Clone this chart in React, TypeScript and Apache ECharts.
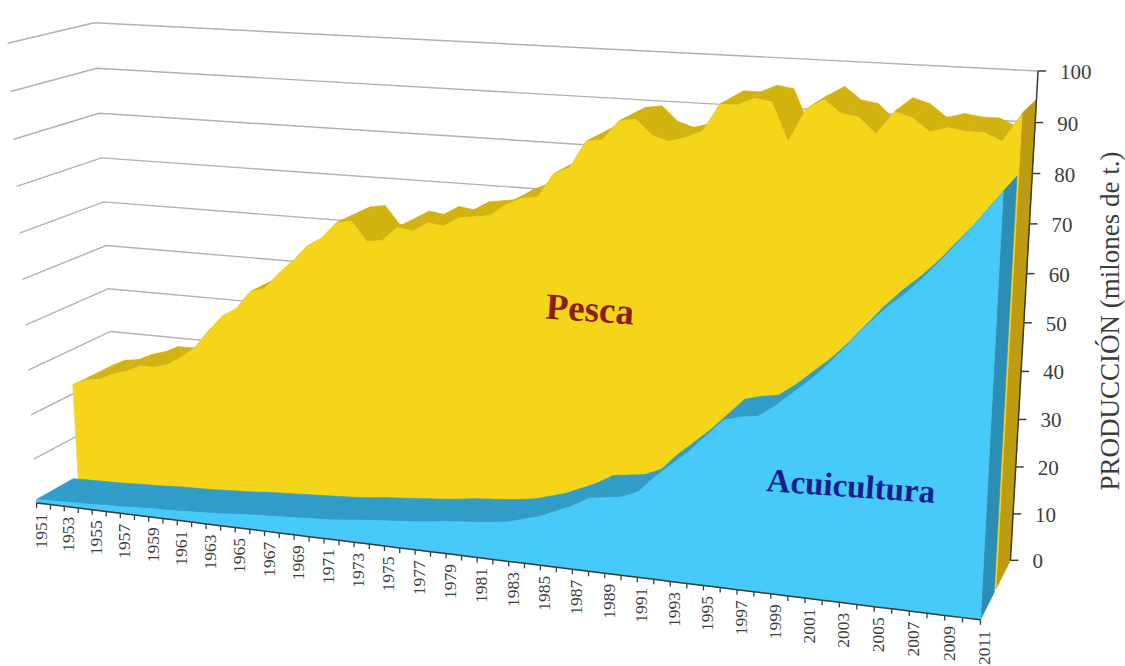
import React, { useEffect, useRef } from "react";
import * as echarts from "echarts";

const years: number[] = [];
for (let y = 1951; y <= 2011; y++) years.push(y);
const pesca = [22,23.5,24,25.5,26.5,28,28,29,31,33.5,37.5,41,43,47,48,51.5,54.5,58,60,63.5,64,60,60.5,63.5,63,65,64.5,66.5,67,67.5,70,71.5,72,77,78.5,84,84.5,88.5,89,86,85,86,87.5,93,93,94.5,94,86.5,93,95,92.5,92,89,93.5,92.5,90,91,90.5,90.5,89,94.5];
const acuicultura = [0.8,0.9,1,1.1,1.2,1.4,1.5,1.7,1.9,2,2.1,2.3,2.5,2.7,3,3.2,3.4,3.6,3.8,4,4.2,4.5,4.9,5.2,5.5,5.8,6.1,6.5,7,7.3,7.6,8,8.5,9.5,10.5,12,13.5,15.5,16,16.5,18,21.5,24.5,27.5,31,34.5,35.5,36,38.5,41.5,44.5,48,52,56,59.5,62.5,66,70,74,78.5,83];
const valueTicks = [0,10,20,30,40,50,60,70,80,90,100];
const yearLabels = years.filter((y) => (y - 1951) % 2 === 0);

// Perspective calibration: (u, v, w) of the chart box -> page pixel
const calib: number[][] = [
  [0,0,0,36,502],[1,0,0,981,620],[0,1,0,8,44],[0,0,1,118,458],
  [1,0,1,1010,560],[0,1,1,94,22],[1,1,1,1038,71],[0.5,0,0,477,557.5],[1,0.5,1,1024,323],
];
function solveCamera(): number[] {
  const A: number[][] = [];
  const b: number[] = [];
  for (const [u,v,w,x,y] of calib) {
    A.push([u,v,w,1,0,0,0,0,-x*u,-x*v,-x*w]); b.push(x);
    A.push([0,0,0,0,u,v,w,1,-y*u,-y*v,-y*w]); b.push(y);
  }
  const n = 11;
  const M: number[][] = [];
  for (let i = 0; i < n; i++) {
    const r: number[] = [];
    for (let j = 0; j < n; j++) { let s = 0; for (let k = 0; k < A.length; k++) s += A[k][i]*A[k][j]; r.push(s); }
    let s = 0; for (let k = 0; k < A.length; k++) s += A[k][i]*b[k]; r.push(s);
    M.push(r);
  }
  for (let i = 0; i < n; i++) {
    let p = i; for (let r = i+1; r < n; r++) if (Math.abs(M[r][i]) > Math.abs(M[p][i])) p = r;
    [M[i], M[p]] = [M[p], M[i]];
    for (let r = 0; r < n; r++) if (r !== i) { const f = M[r][i]/M[i][i]; for (let c = i; c <= n; c++) M[r][c] -= f*M[i][c]; }
  }
  return M.map((r, i) => r[n]/r[i]);
}
const P = solveCamera();
const project = (u: number, v: number, w: number): number[] => {
  const d = P[8]*u + P[9]*v + P[10]*w + 1;
  return [(P[0]*u+P[1]*v+P[2]*w+P[3])/d, (P[4]*u+P[5]*v+P[6]*w+P[7])/d];
};

const G = { left: 100, top: 100, width: 800, height: 400 };
const pt = (api: any, year: number, val: number, w: number) => {
  const c = api.coord([year, val]);
  return project((c[0]-G.left)/G.width, 1-(c[1]-G.top)/G.height, w);
};

const AQ_F = 0, AQ_B = 0.44, PE_F = 0.5, PE_B = 1;
const C = { aqFront: "#47c9f9", aqTop: "#2f9dc8", aqSide: "#2e8db5", peFront: "#f5d519", peTop: "#d2b20f", peSide: "#bd9c12", grid: "#b0b0b8", axis: "#3a3a3a", text: "#3c3c3c" };
const serif = "'Liberation Serif', serif";
const poly = (points: number[][], fill: string) => ({ type: "polygon", shape: { points }, style: { fill, stroke: fill, lineWidth: 0.6 } });

const solid = (name: string, vals: number[], wF: number, wB: number, front: string, top: string, side: string, z: number) => [
  { // top surface, one quad per year step
    type: "custom", name: name + " sup", coordinateSystem: "cartesian2d", z, animation: false, silent: true,
    data: years.slice(0, -1).map((y, i) => [y, vals[i], y + 1, vals[i + 1]]),
    encode: { x: 0, y: 1 },
    renderItem: (_: any, api: any) => {
      const y0 = api.value(0), v0 = api.value(1), y1 = api.value(2), v1 = api.value(3);
      return poly([pt(api,y0,v0,wF), pt(api,y1,v1,wF), pt(api,y1,v1,wB), pt(api,y0,v0,wB)], top);
    },
  },
  { // right side and front face
    type: "custom", name, coordinateSystem: "cartesian2d", z: z + 1, animation: false, silent: true,
    data: [[years[years.length - 1], vals[vals.length - 1]]],
    encode: { x: 0, y: 1 },
    renderItem: (_: any, api: any) => {
      const yl = years[years.length - 1], vl = vals[vals.length - 1];
      const sidePts = [pt(api,yl,0,wF), pt(api,yl,0,wB), pt(api,yl,vl,wB), pt(api,yl,vl,wF)];
      const frontPts = [pt(api,years[0],0,wF), ...years.map((y,i) => pt(api,y,vals[i],wF)), pt(api,yl,0,wF)];
      return { type: "group", children: [poly(sidePts, side), poly(frontPts, front)] };
    },
  },
];

export default function App() {
  const ref = useRef<HTMLDivElement>(null);
  useEffect(() => {
    const chart = echarts.init(ref.current!, undefined, { renderer: "svg" });
    const yl = years[years.length - 1], y0 = years[0];
    chart.setOption({
      animation: false,
      backgroundColor: "#ffffff",
      grid: { ...G, containLabel: false },
      xAxis: { type: "value", min: y0, max: yl, show: false },
      yAxis: { type: "value", min: 0, max: 100, show: false },
      series: [
        { type: "custom", name: "rejilla", coordinateSystem: "cartesian2d", z: 1, silent: true,
          data: valueTicks.slice(1).map((v) => [y0, v]), encode: { x: 0, y: 1 },
          renderItem: (_: any, api: any) => {
            const v = api.value(1);
            return { type: "polyline", shape: { points: [pt(api,yl,v,1), pt(api,y0,v,1), pt(api,y0,v,0)] }, style: { stroke: C.grid, lineWidth: 1.4, fill: "none" } };
          } },
        ...solid("Pesca", pesca, PE_F, PE_B, C.peFront, C.peTop, C.peSide, 2),
        ...solid("Acuicultura", acuicultura, AQ_F, AQ_B, C.aqFront, C.aqTop, C.aqSide, 5),
        { type: "custom", name: "eje valores", coordinateSystem: "cartesian2d", z: 8, silent: true,
          data: valueTicks.map((v) => [yl, v]), encode: { x: 0, y: 1 },
          renderItem: (_: any, api: any) => {
            const v = api.value(1);
            const p = pt(api, yl, v, 1);
            const next = pt(api, yl, Math.min(v + 10, 100), 1);
            const children: any[] = [
              { type: "line", shape: { x1: p[0], y1: p[1], x2: p[0] + 8, y2: p[1] }, style: { stroke: C.axis, lineWidth: 1.5 } },
              { type: "text", style: { text: String(v), x: p[0] + 22, y: p[1] + 1, font: `21px ${serif}`, fill: C.text, align: "left", verticalAlign: "middle" } },
            ];
            if (v < 100) children.push({ type: "line", shape: { x1: p[0], y1: p[1], x2: next[0], y2: next[1] }, style: { stroke: C.axis, lineWidth: 1.5 } });
            return { type: "group", children };
          } },
        { type: "custom", name: "eje años", coordinateSystem: "cartesian2d", z: 8, silent: true,
          data: years.map((y) => [y, 0]), encode: { x: 0, y: 1 },
          renderItem: (_: any, api: any) => {
            const y = api.value(0);
            const p = pt(api, y, 0, 0);
            const children: any[] = [{ type: "line", shape: { x1: p[0], y1: p[1], x2: p[0], y2: p[1] + 5 }, style: { stroke: C.axis, lineWidth: 1.3 } }];
            if (y < yl) {
              const n = pt(api, y + 1, 0, 0);
              children.push({ type: "line", shape: { x1: p[0], y1: p[1], x2: n[0], y2: n[1] }, style: { stroke: C.axis, lineWidth: 1.5 } });
            }
            if (yearLabels.indexOf(y) >= 0) {
              children.push({ type: "text", x: p[0] + 4, y: p[1] + 28, rotation: Math.PI / 2,
                style: { text: String(y), x: 0, y: 0, font: `17.5px ${serif}`, fill: C.text, align: "center", verticalAlign: "middle" } });
            }
            return { type: "group", children };
          } },
      ],
      graphic: [
        { type: "text", x: 1110, y: 321, rotation: Math.PI / 2, style: { text: "PRODUCCIÓN (milones de t.)", font: `27px ${serif}`, fill: C.text, align: "center", verticalAlign: "middle" } },
        { type: "text", x: 590, y: 309, rotation: -0.07, z: 20, style: { text: "Pesca", font: `bold 37px ${serif}`, fill: "#8a1f10", align: "center", verticalAlign: "middle" } },
        { type: "text", x: 851, y: 486, rotation: -0.07, z: 20, style: { text: "Acuicultura", font: `bold 33px ${serif}`, fill: "#141e8c", align: "center", verticalAlign: "middle" } },
      ],
    });
    return () => chart.dispose();
  }, []);
  return <div ref={ref} style={{ position: "absolute", left: 0, top: 0, width: 1125, height: 666 }} />;
}
